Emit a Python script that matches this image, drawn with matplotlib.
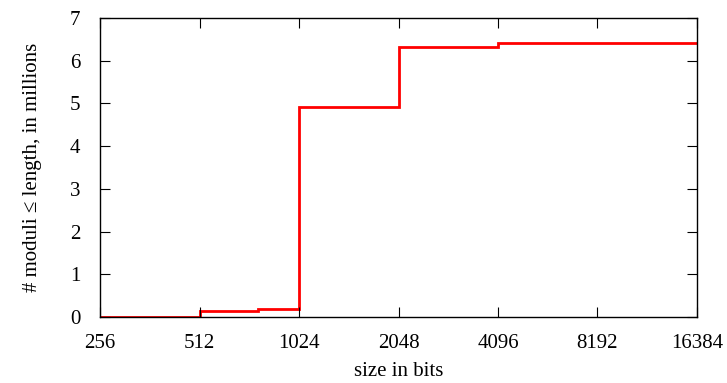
import matplotlib

matplotlib.use("Agg")

import matplotlib.pyplot as plt

# bin edges (bits) and cumulative count of moduli (millions)
size_edges = [256, 512, 768, 1024, 2048, 4096, 16384]
moduli_millions = [0.01, 0.15, 0.18, 4.92, 6.33, 6.41]

x_ticks = [256, 512, 1024, 2048, 4096, 8192, 16384]
y_ticks = [0, 1, 2, 3, 4, 5, 6, 7]

plt.rcParams["font.family"] = ["Liberation Serif", "DejaVu Serif"]
plt.rcParams["font.size"] = 15

fig = plt.figure(figsize=(7.27, 3.83), dpi=100)
ax = fig.add_axes([0.1376, 0.1723, 0.8211, 0.7807])

ax.stairs(moduli_millions, size_edges, baseline=None, color="#ff0000", linewidth=2.0)

ax.set_xscale("log", base=2)
ax.set_xlim(256, 16384)
ax.set_ylim(0, 7)
ax.set_xticks(x_ticks)
ax.set_xticklabels([str(t) for t in x_ticks])
ax.minorticks_off()
ax.set_yticks(y_ticks)

ax.tick_params(direction="in", length=7, width=0.8, top=True, right=True)
ax.tick_params(axis="x", pad=12)
ax.tick_params(axis="y", pad=14)
for spine in ax.spines.values():
    spine.set_linewidth(1.0)

ax.set_xlabel("size in bits", labelpad=7)
ax.set_ylabel("# moduli \u2264 length, in millions", labelpad=20)

fig.savefig("out.png", dpi=100)
plt.close(fig)
